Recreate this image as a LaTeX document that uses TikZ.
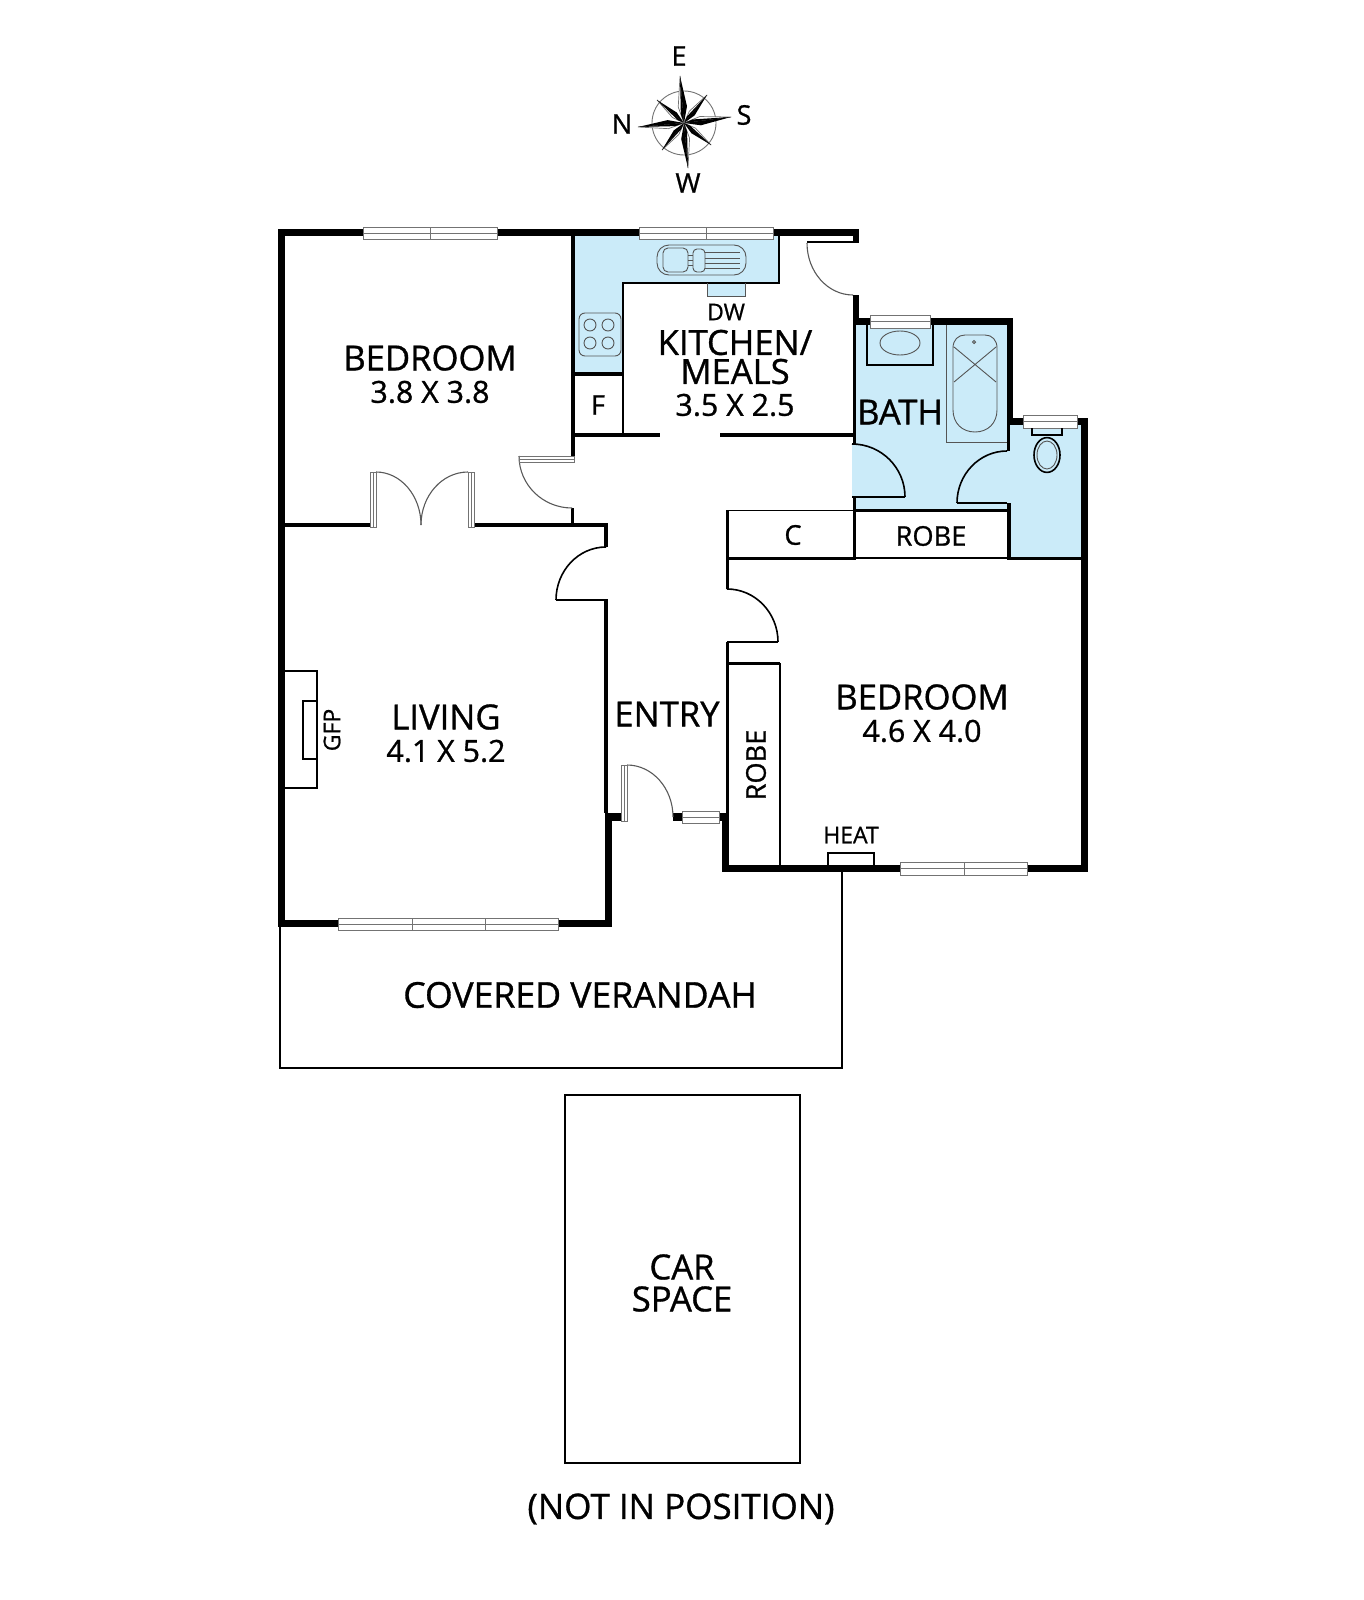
\documentclass[tikz,border=0pt]{standalone}
\usepackage{fontspec}
\setmainfont[RawFeature={embolden=0.9}]{Open Sans}
\usetikzlibrary{calc}
\definecolor{wetblue}{HTML}{CBEBF9}
\definecolor{thing}{HTML}{555555}
\newcommand{\wl}[4]{\fill[black] (#1,#2) rectangle (#3,#4);}
\newcommand{\qarc}[7][thin line]{\draw[#1] (#2,#3) .. controls ($(#2,#3)!0.552!(#6,#7)$) and ($(#4,#5)!0.552!(#6,#7)$) .. (#4,#5);}
\newcommand{\winh}[4]{\draw[winbox] (#1,#2) rectangle (#3,#4); \draw[winline] (#1,{(#2+#4)/2}) -- (#3,{(#2+#4)/2});}
\newcommand{\winv}[4]{\draw[winbox] (#1,#2) rectangle (#3,#4); \draw[winline] ({(#1+#3)/2},#2) -- ({(#1+#3)/2},#4);}
\tikzset{
  thin line/.style={draw=black!65,line width=0.55pt},
  dark line/.style={draw=black,line width=0.8pt},
  fixture/.style={draw=thing,line width=0.45pt},
  winbox/.style={draw=black!55,fill=white,line width=0.45pt},
  winline/.style={draw=black!55,line width=0.35pt},
  big/.style={inner sep=0,font=\fontsize{17.3}{18}\selectfont},
  kitstack/.style={inner sep=0,align=center,font=\fontsize{17.3}{14.5}\selectfont},
  carstack/.style={inner sep=0,align=center,font=\fontsize{17.3}{16}\selectfont},
  dim/.style={inner sep=0,font=\fontsize{15.2}{16}\selectfont},
  mid/.style={inner sep=0,font=\fontsize{13.6}{15}\selectfont},
  small/.style={inner sep=0,font=\fontsize{11.5}{13}\selectfont},
  compasslabel/.style={inner sep=0,font=\fontsize{13.5}{15}\selectfont},
}
\begin{document}
\begin{tikzpicture}[x=0.5pt,y=-0.5pt]
\lineskiplimit=-100pt
\useasboundingbox (0,0) rectangle (1364,1600);
% wet areas
\fill[wetblue] (575,236) -- (779,236) -- (779,283) -- (623,283) -- (623,373) -- (575,373) -- cycle;
\fill[wetblue] (856,325) -- (1007,325) -- (1007,425) -- (1081,425) -- (1081,558) -- (1009,558) -- (1009,509) -- (856,509) -- cycle;
\fill[wetblue] (852,444) .. controls (882,444) and (905,468) .. (905,497) -- (852,497) -- cycle;
\fill[wetblue] (707,283) rectangle (745,296);
% kitchen joinery
\draw[dark line] (779,236) -- (779,283) -- (623,283) -- (623,435);
\draw[fixture] (707,283) -- (707,296) -- (745,296) -- (745,283);
% sink
\draw[fixture,rounded corners=6pt] (657,245) rectangle (746,275);
\draw[fixture,rounded corners=2.5pt] (663,248) rectangle (688,272);
\draw[fixture,rounded corners=2pt] (693,249) rectangle (705,272);
\draw[fixture] (688,255) -- (693,255) (688,260) -- (693,260) (688,265) -- (693,265);
\draw[fixture] (705,252) -- (740,252) (705,258) -- (740,258) (705,263) -- (740,263) (705,268) -- (740,268);
% hob
\draw[fixture,rounded corners=3pt] (579,313) rectangle (621,356);
\foreach \cx/\cy in {590/325,608/325,590/343,608/343}{\draw[fixture] (\cx,\cy) circle[radius=3pt];}
% walls: outer
\wl{278}{229}{639}{236}
\wl{773}{229}{859}{236}
\wl{853}{229}{859}{243}
\wl{278}{229}{285}{927}
\wl{278}{920}{338}{927}
\wl{558}{920}{612}{927}
\wl{605}{813}{612}{927}
\wl{605}{813}{621}{821}
\wl{673}{813}{682}{821}
\wl{719}{813}{727}{821}
\wl{722}{813}{729}{872}
\wl{722}{865}{900}{872}
\wl{1027}{865}{1088}{872}
\wl{1081}{418}{1088}{872}
\wl{1007}{418}{1023}{425}
\wl{1077}{418}{1088}{425}
\wl{1007}{318}{1013}{425}
\wl{1007}{425}{1010}{451}
\wl{853}{318}{870}{325}
\wl{930}{318}{1013}{325}
\wl{853}{295}{859}{325}
\wl{853}{325}{856}{444}
\wl{853}{497}{856}{560}
% walls: inner
\wl{571}{236}{575}{456}
\wl{571}{508}{574}{525}
\wl{285}{523}{370}{527}
\wl{474}{523}{608}{527}
\wl{604}{523}{608}{547}
\wl{604}{600}{608}{813}
\draw[dark line] (556,600) -- (608,600);
\wl{571}{433}{660}{437}
\wl{720}{433}{853}{437}
\wl{572}{372}{623}{376}
\wl{854}{509}{1010}{512}
\wl{1007}{503}{1011}{558}
\wl{1007}{557}{1088}{560}
\draw[dark line] (727,510.5) -- (854,510.5);
\draw[dark line] (855,558) -- (1008,558);
\wl{726}{510}{729}{589}
\wl{726}{556.5}{855}{560}
\wl{726}{642}{729}{815}
\draw[dark line] (727,642) -- (778,642);
\wl{726}{662}{780}{665}
\draw[dark line] (780,663) -- (780,866);
\draw[dark line] (957,503) -- (1007,503);
\draw[dark line] (852,497) -- (905,497);
\draw[dark line] (807,242) -- (853,242);
% door swings
\qarc{807}{243}{853}{295}{807}{295}
\qarc{519}{456}{572}{508}{519}{508}
\qarc{376}{472}{421}{525}{421}{472}
\qarc{468}{472}{421}{525}{421}{472}
\qarc[dark line]{606}{547}{556}{600}{556}{547}
\qarc{627}{765}{673}{817}{673}{765}
\qarc[dark line]{852}{444}{905}{497}{905}{444}
\qarc[dark line]{1007}{451}{957}{503}{957}{451}
\qarc[dark line]{727}{589}{778}{642}{778}{589}
% door leaves
\winv{370}{472}{376}{527}
\winv{468}{472}{474}{527}
\winv{621}{765}{627}{821}
\winh{519}{456}{574}{462}
% windows
\winh{363}{227}{497}{239}
\draw[winline] (430,227) -- (430,239);
\winh{639}{227}{773}{239}
\draw[winline] (706,227) -- (706,239);
\winh{338}{918}{558}{930}
\draw[winline] (412,918) -- (412,930) (485,918) -- (485,930);
\winh{900}{862}{1027}{875}
\draw[winline] (964,862) -- (964,875);
\winh{682}{811}{719}{823}
\winh{870}{315}{930}{328}
\winh{1023}{415}{1077}{428}
% bath fixtures
\draw[dark line] (867,325) -- (867,365) -- (933,365) -- (933,325);
\draw[fixture] (900,343) ellipse[x radius=10pt,y radius=6pt];
\draw[fixture] (946,325) -- (946,442) -- (1007,442);
\draw[fixture] (953,348) .. controls (953,340) and (958,335) .. (965,335) -- (985,335) .. controls (992,335) and (997,340) .. (997,348) -- (997,410) .. controls (997,423) and (988,432) .. (975,432) .. controls (962,432) and (953,423) .. (953,410) -- cycle;
\draw[fixture] (954,382) -- (996,347) (954,347) -- (996,382);
\draw[fixture] (974,342) circle[radius=0.8pt];
% toilet
\draw[dark line] (1032,428) -- (1032,435) -- (1062,435) -- (1062,428);
\draw[dark line] (1047,455) ellipse[x radius=6.5pt,y radius=8.7pt];
\draw[fixture] (1047,455) ellipse[x radius=5pt,y radius=7pt];
% heater, fireplace
\draw[dark line] (828,865) -- (828,853) -- (874,853) -- (874,865);
\draw[dark line] (285,671) -- (317,671) -- (317,788) -- (285,788);
\draw[dark line] (317,701) -- (303,701) -- (303,759) -- (317,759);
% verandah and car space
\draw[dark line] (842,872) -- (842,1068) -- (280,1068) -- (280,927);
\draw[dark line] (565,1095) rectangle (800,1463);
% compass
\coordinate (cc) at (684,123);
\draw[draw=black!55,line width=0.45pt] (cc) circle[radius=16pt];
\foreach \dx/\dy in {-46/4,-4/-47,47/-6,4/45,23/-28,-27/-23,-22/27,27/22}{
  \coordinate (tip) at ($(cc)+(\dx,\dy)$);
  \coordinate (sa) at ($(cc)!0.36!15:(tip)$);
  \coordinate (sb) at ($(cc)!0.36!-15:(tip)$);
  \draw[fill=white,draw=black!55,line width=0.35pt] (cc) -- (sa) -- (tip) -- cycle;
  \fill[black] (cc) -- (sb) -- (tip) -- cycle;
  \fill[black] (cc) -- ($(sa)!0.45!(cc)$) -- (tip) -- cycle;
}
\node[compasslabel] (compE) at (679,56) {E};
\node[compasslabel] (compS) at (744,115) {S};
\node[compasslabel] (compN) at (622,124) {N};
\node[compasslabel] (compW) at (688,183) {W};
% labels
\node[big] (bed1) at (430,358) {BEDROOM};
\node[dim] (bed1d) at (430,392) {3.8 X 3.8};
\node[small] (dw) at (726,312) {DW};
\node[kitstack] (kit) at (735,357) {KITCHEN/\\MEALS};
\node[dim] (kitd) at (735,405) {3.5 X 2.5};
\node[mid] (fr) at (598,405) {F};
\node[big] (bath) at (900,412) {BATH};
\node[mid] (robe1) at (931,536) {ROBE};
\node[mid] (cup) at (793,535) {C};
\node[big] (bed2) at (922,697) {BEDROOM};
\node[dim] (bed2d) at (922,731) {4.6 X 4.0};
\node[big] (liv) at (446,717) {LIVING};
\node[dim] (livd) at (446,751) {4.1 X 5.2};
\node[big] (ent) at (667,714) {ENTRY};
\node[mid,rotate=90] (robe2) at (756,765) {ROBE};
\node[small] (heat) at (851,835) {HEAT};
\node[small,rotate=90] (gfp) at (332,730) {GFP};
\node[big] (ver) at (580,995) {\fontsize{17.8}{18}\selectfont COVERED VERANDAH};
\node[carstack] (car) at (682,1283) {CAR\\SPACE};
\node[big] (notpos) at (681,1509) {\fontsize{17.5}{18}\selectfont (NOT IN POSITION)};
\end{tikzpicture}
\end{document}
